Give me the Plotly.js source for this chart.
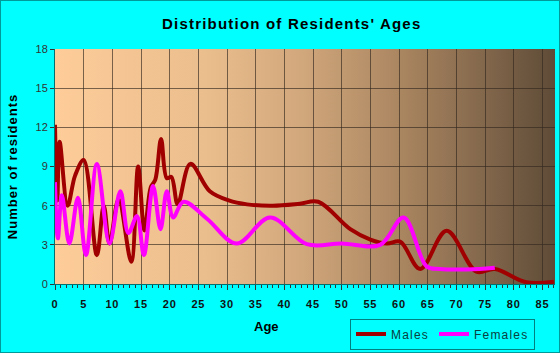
<!DOCTYPE html>
<html>
<head>
<meta charset="utf-8">
<script src="https://cdn.plot.ly/plotly-3.0.1.min.js"></script>
<style>
html,body{margin:0;padding:0;background:#00FFFF;}
#wrap{position:relative;width:560px;height:353px;}
#chart{width:560px;height:353px;}
#frame{position:absolute;left:0;top:0;width:560px;height:353px;box-sizing:border-box;border:1px solid #009a9a;pointer-events:none;}
.gtitle{letter-spacing:1.2px;}
.xtitle,.ytitle{letter-spacing:1px;}
.legendtext{letter-spacing:1.2px;}
.xtick text{letter-spacing:0.8px;}
</style>
</head>
<body>
<div id="wrap"><div id="chart"></div><div id="frame"></div></div>
<script>
// Data
const maleAges = [0, 0.4, 0.8, 2.2, 3.5, 5, 7.3, 8.5, 9.5, 11.1, 13.3, 14.5, 15.6, 16.7, 17.5, 18.5, 19.5, 20.3, 21.4, 23.6, 27, 30.3, 33.5, 38, 42.7, 45.9, 51.5, 55, 57.9, 60.2, 63.7, 68.3, 73.5, 76.7, 82.2, 87];
const maleCounts = [12.2, 6.4, 10.9, 6.0, 8.3, 9.5, 2.2, 6.0, 3.1, 6.5, 1.7, 9.0, 4.1, 7.4, 8.0, 11.1, 8.1, 8.2, 6.1, 9.2, 7.1, 6.4, 6.1, 6.0, 6.15, 6.3, 4.2, 3.4, 3.1, 3.25, 1.15, 4.07, 0.94, 1.15, 0.13, 0.17];
const femaleAges = [0, 0.5, 1.2, 2.5, 4, 5.4, 7.3, 9.5, 11.4, 12.8, 14.3, 15.5, 17.1, 18.4, 19.5, 20.6, 22.4, 26.5, 31.7, 37.5, 43.9, 50, 56.7, 60.8, 64.8, 67.1, 74, 76.7];
const femaleCounts = [7.8, 3.5, 6.8, 3.1, 6.6, 2.2, 9.2, 3.1, 7.1, 3.9, 5.2, 2.2, 7.5, 4.2, 7.1, 5.1, 6.3, 5.0, 3.1, 5.1, 3.05, 3.1, 3.0, 5.1, 1.35, 1.15, 1.15, 1.25];
const xTickVals = [0, 5, 10, 15, 20, 25, 30, 35, 40, 45, 50, 55, 60, 65, 70, 75, 80, 85];
const yTickVals = [0, 3, 6, 9, 12, 15, 18];

const gradSvg = "<svg xmlns='http://www.w3.org/2000/svg' width='500' height='100' preserveAspectRatio='none' viewBox='0 0 500 100'>" +
  "<defs><linearGradient id='g' x1='0' y1='0' x2='1' y2='0'>" +
  "<stop offset='0' stop-color='#FDCC99'/>" +
  "<stop offset='0.3' stop-color='#EBBE8D'/>" +
  "<stop offset='0.5' stop-color='#D0A67B'/>" +
  "<stop offset='0.7' stop-color='#A8845F'/>" +
  "<stop offset='0.85' stop-color='#85694D'/>" +
  "<stop offset='1' stop-color='#5E4B37'/>" +
  "</linearGradient></defs><rect x='0' y='0' width='500' height='100' fill='url(#g)'/></svg>";
const gradUri = "data:image/svg+xml;charset=utf-8," + encodeURIComponent(gradSvg);

const traces = [
  {x: maleAges, y: maleCounts, name: 'Males', type: 'scatter', mode: 'lines',
   line: {color: '#A00000', width: 4, shape: 'spline', smoothing: 1}},
  {x: femaleAges, y: femaleCounts, name: 'Females', type: 'scatter', mode: 'lines',
   line: {color: '#FF00FF', width: 4, shape: 'spline', smoothing: 1}}
];

const layout = {
  width: 560, height: 353,
  paper_bgcolor: '#00FFFF',
  plot_bgcolor: 'rgba(0,0,0,0)',
  margin: {l: 55, r: 5, t: 49, b: 68},
  font: {family: 'Liberation Sans, Arial, sans-serif'},
  title: {text: "Distribution of Residents' Ages", font: {size: 15, weight: 'bold', color: '#000'},
          xref: 'container', x: 0.521, xanchor: 'center', yref: 'container', y: 0.932, yanchor: 'middle'},
  xaxis: {
    range: [0, 87.2], tickvals: xTickVals, ticktext: xTickVals.map(String),
    ticks: 'outside', ticklen: 5, tickcolor: '#333', tickwidth: 1, ticklabelstandoff: 5,
    minor: {dtick: 1, tick0: 0, ticks: 'outside', ticklen: 3, tickcolor: '#333', showgrid: false},
    showgrid: true, gridcolor: 'rgba(50,40,30,0.65)', gridwidth: 1,
    showline: true, linecolor: '#007070', linewidth: 1, zeroline: false,
    tickfont: {size: 11, weight: 'bold', color: '#111'}, fixedrange: true
  },
  yaxis: {
    range: [0, 18], tickvals: yTickVals, ticktext: yTickVals.map(String),
    ticks: 'outside', ticklen: 4, tickcolor: '#333',
    showgrid: true, gridcolor: 'rgba(50,40,30,0.65)', gridwidth: 1,
    showline: true, linecolor: '#007070', linewidth: 1, zeroline: false,
    tickfont: {size: 11, color: '#333'},
    title: {text: 'Number of residents', font: {size: 13, weight: 'bold', color: '#000'}, standoff: 14},
    fixedrange: true
  },
  annotations: [
    {text: 'Age', xref: 'paper', yref: 'paper', x: (266 - 55) / 500, y: (285 - 328) / 236,
     xanchor: 'center', yanchor: 'middle', showarrow: false,
     font: {size: 13, weight: 'bold', color: '#000'}}
  ],
  showlegend: true,
  legend: {orientation: 'h', x: (350 - 55) / 500, y: (285 - 318.5) / 236, xanchor: 'left', yanchor: 'top',
           bgcolor: 'rgba(0,0,0,0)', bordercolor: '#008080', borderwidth: 1,
           font: {size: 12, color: '#0a4040'}, itemwidth: 30, tracegroupgap: 0},
  images: [{source: gradUri, xref: 'paper', yref: 'paper', x: 0, y: 1, sizex: 1, sizey: 1,
            sizing: 'stretch', xanchor: 'left', yanchor: 'top', layer: 'below'}]
};

Plotly.newPlot('chart', traces, layout, {displayModeBar: false, staticPlot: true});
</script>
</body>
</html>
